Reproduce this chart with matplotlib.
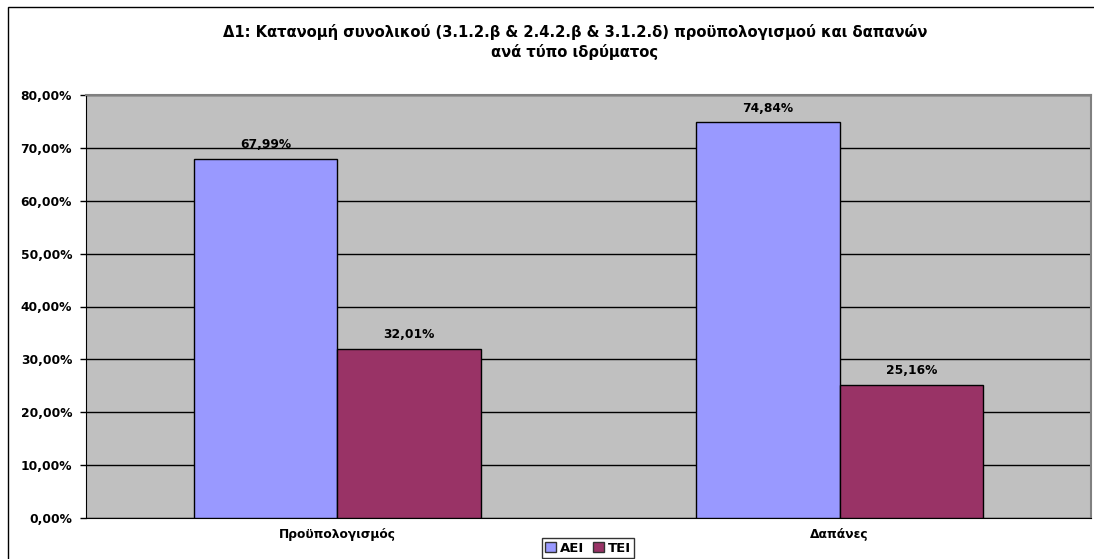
import matplotlib
matplotlib.use("Agg")
import matplotlib.pyplot as plt
import numpy as np
from matplotlib.patches import Rectangle

categories = ["Προϋπολογισμός", "Δαπάνες"]
series_names = ["ΑΕΙ", "ΤΕΙ"]
aei = [67.99, 74.84]
tei = [32.01, 25.16]
yticks = [0, 10, 20, 30, 40, 50, 60, 70, 80]
title = "Δ1: Κατανομή συνολικού (3.1.2.β & 2.4.2.β & 3.1.2.δ) προϋπολογισμού και δαπανών\nανά τύπο ιδρύματος"

plt.rcParams['font.family'] = ['DejaVu Sans']
plt.rcParams['font.weight'] = 'bold'

W, H = 1094, 559
fig = plt.figure(figsize=(W/100, H/100), dpi=100)
fig.patch.set_facecolor('white')

# outer chart border (cropped at right/bottom)
fig.patches.append(Rectangle((8/W, -0.5), 1.2, 1.5 - 7/H, transform=fig.transFigure,
                             fill=False, edgecolor='black', linewidth=1.0))

ax = fig.add_axes([86/W, 1 - 518/H, (1091-86)/W, (518-95)/H])
ax.set_facecolor('#C0C0C0')

x = np.arange(len(categories))
bw = 1/3.5
colors = ['#9999FF', '#993366']
fs = 8.8
for i, (vals, c, name) in enumerate(zip([aei, tei], colors, series_names)):
    pos = x + (i - 0.5) * bw
    bars = ax.bar(pos, vals, width=bw, color=c, edgecolor='black', linewidth=1.0,
                  label=name, zorder=3)
    for b, v in zip(bars, vals):
        ax.annotate(f"{v:.2f}%".replace('.', ','), (b.get_x() + b.get_width()/2, v),
                    xytext=(0, 5.5), textcoords='offset points', ha='center', va='bottom',
                    fontsize=fs, fontweight='bold', zorder=4)

ax.set_xlim(-0.5, len(categories) - 0.5)
ax.set_ylim(0, 80)
ax.set_yticks(yticks)
ax.set_yticklabels([f"{t:.2f}%".replace('.', ',') for t in yticks], fontsize=fs, fontweight='bold')
ax.set_xticks(x)
ax.set_xticklabels(categories, fontsize=fs, fontweight='bold')
ax.tick_params(axis='x', length=0, pad=7)
ax.tick_params(axis='y', length=4, width=1, color='black', pad=6)
ax.yaxis.grid(True, color='black', linewidth=1.0, zorder=1)
ax.set_axisbelow(True)

for s in ['top', 'right']:
    ax.spines[s].set_color('#808080')
    ax.spines[s].set_linewidth(1.5)
ax.spines['left'].set_color('black')
ax.spines['bottom'].set_color('black')

fig.text(575/W, 1 - 42/H, title, ha='center', va='center', fontsize=10.6,
         fontweight='bold', linespacing=1.25)

leg = fig.legend(loc='center', bbox_to_anchor=(588/W, 1 - 548/H), ncol=2,
                 frameon=True, fancybox=False, edgecolor='black', handlelength=0.8,
                 handleheight=0.8, handletextpad=0.3, columnspacing=0.7,
                 borderpad=0.25, borderaxespad=0, prop={'weight': 'bold', 'size': 9.5})
leg.get_frame().set_linewidth(1.0)
for h in leg.legend_handles:
    h.set_edgecolor('#333333')

fig.savefig('out.png', dpi=100, facecolor='white')
